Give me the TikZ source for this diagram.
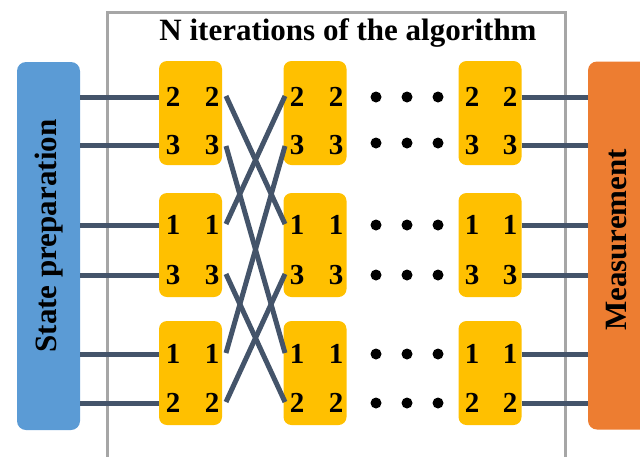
\documentclass[tikz,border=0pt]{standalone}
\usepackage{fontspec}
\setmainfont{Liberation Serif}
\usetikzlibrary{calc}
\definecolor{prepblue}{HTML}{5B9BD5}
\definecolor{measorange}{HTML}{ED7D31}
\definecolor{gateyellow}{HTML}{FFC000}
\definecolor{wirecol}{HTML}{44546A}
\definecolor{framegray}{HTML}{A6A6A6}
\begin{document}
\begin{tikzpicture}[x=1pt,y=-1pt,
  sidebox/.style={rounded corners=9pt, minimum width=63pt, minimum height=368pt, inner sep=0pt},
  gate/.style={fill=gateyellow, rounded corners=8pt, minimum width=63pt, minimum height=104pt, inner sep=0pt},
  digit/.style={font=\fontsize{29}{29}\selectfont\bfseries, inner sep=0pt},
  bigtext/.style={font=\fontsize{31}{31}\selectfont\bfseries, inner sep=0pt},
  wireline/.style={draw=wirecol, line width=5pt},
  dotmark/.style={circle, fill=black, minimum size=11pt, inner sep=0pt},
]
\useasboundingbox (0,0) rectangle (640,456);
% frame
\draw[framegray, line width=3pt] (107,470) -- (107,12) -- (565,12) -- (565,470);
\node[bigtext, anchor=base] (title) at (348,40) {N iterations of the algorithm};
% side boxes
\node[sidebox, fill=prepblue] (prep) at (48.5,246) {};
\node[bigtext, rotate=90] (preptext) at (49.5,236) {State preparation};
\node[sidebox, fill=measorange] (meas) at (619.5,245.5) {};
\node[bigtext, rotate=90] (meastext) at (617,240) {Measurement};
% gates
\foreach \c/\x in {1/190.5,2/315,3/490}{
  \node[gate] (g\c-1) at (\x,113) {};
  \node[gate] (g\c-2) at (\x,245) {};
  \node[gate] (g\c-3) at (\x,373) {};
}
% digits
\foreach \c/\xl/\xr in {1/173/212,2/297/336,3/472/510}{
  \node[digit] (d\c-a-L) at (\xl,97) {2};  \node[digit] (d\c-a-R) at (\xr,97) {2};
  \node[digit] (d\c-b-L) at (\xl,145) {3}; \node[digit] (d\c-b-R) at (\xr,145) {3};
  \node[digit] (d\c-c-L) at (\xl,225) {1}; \node[digit] (d\c-c-R) at (\xr,225) {1};
  \node[digit] (d\c-d-L) at (\xl,275) {3}; \node[digit] (d\c-d-R) at (\xr,275) {3};
  \node[digit] (d\c-e-L) at (\xl,354) {1}; \node[digit] (d\c-e-R) at (\xr,354) {1};
  \node[digit] (d\c-f-L) at (\xl,403) {2}; \node[digit] (d\c-f-R) at (\xr,403) {2};
}
% input / output wires
\foreach \r/\g in {a/1,b/1,c/2,d/2,e/3,f/3}{
  \draw[wireline] (prep.east |- d1-\r-L) -- (g1-\g.west |- d1-\r-L);
  \draw[wireline] (g3-\g.east |- d3-\r-R) -- (meas.west |- d3-\r-R);
}
% crossing endpoints
\foreach \r/\y in {a/96,b/146,c/224,d/274,e/353,f/402}{
  \coordinate (xl-\r) at (226,\y);
  \coordinate (xr-\r) at (285,\y);
}
\draw[wireline] (xl-a) -- (xr-c);
\draw[wireline] (xl-c) -- (xr-a);
\draw[wireline] (xl-b) -- (xr-e);
\draw[wireline] (xl-e) -- (xr-b);
\draw[wireline] (xl-d) -- (xr-f);
\draw[wireline] (xl-f) -- (xr-d);
% dots
\foreach \r/\y in {a/97,b/143,c/225,d/275,e/354,f/403}{
  \node[dotmark] (dot-\r-1) at (376,\y) {};
  \node[dotmark] (dot-\r-2) at (407,\y) {};
  \node[dotmark] (dot-\r-3) at (438,\y) {};
}
\end{tikzpicture}
\end{document}
